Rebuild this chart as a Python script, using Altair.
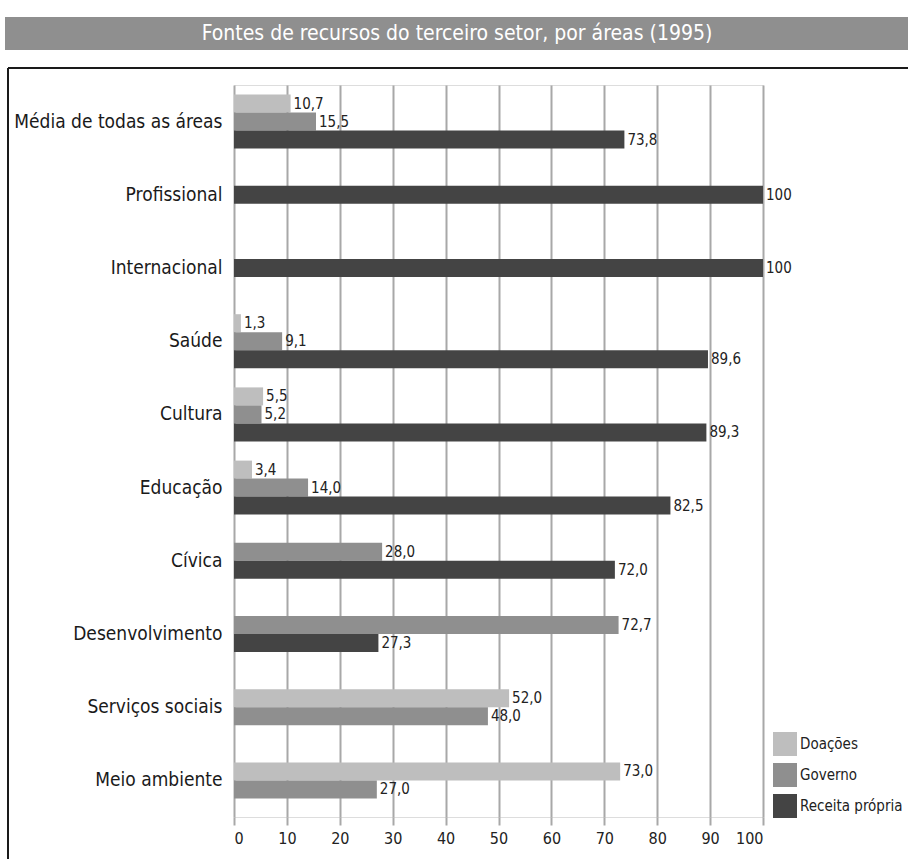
import altair as alt
import pandas as pd

categories = ["Média de todas as áreas", "Profissional", "Internacional", "Saúde",
              "Cultura", "Educação", "Cívica", "Desenvolvimento",
              "Serviços sociais", "Meio ambiente"]
series = ["Doações", "Governo", "Receita própria"]
doacoes = [10.7, None, None, 1.3, 5.5, 3.4, None, None, 52.0, 73.0]
governo = [15.5, None, None, 9.1, 5.2, 14.0, 28.0, 72.7, 48.0, 27.0]
receita = [73.8, 100, 100, 89.6, 89.3, 82.5, 72.0, 27.3, None, None]
colors = ["#bebebe", "#8f8f8f", "#444444"]
x_ticks = list(range(0, 101, 10))
title_text = "Fontes de recursos do terceiro setor, por áreas (1995)"

rows = []
for ci, cat in enumerate(categories):
    vals = [doacoes[ci], governo[ci], receita[ci]]
    present = [(s, v) for s, v in zip(series, vals) if v is not None]
    n = len(present)
    for i, (s, v) in enumerate(present):
        lab = "100" if v == 100 else f"{v:.1f}".replace(".", ",")
        rows.append({"area": cat, "fonte": s, "valor": v, "rotulo": lab,
                     "slot": i - (n - 1) / 2})
df = pd.DataFrame(rows)

FONT = "DejaVu Sans Condensed, Roboto, sans-serif"
W, H = 529, 732
half = H / len(categories) / 2

y_enc = alt.Y("area:N", sort=categories,
              scale=alt.Scale(paddingInner=0, paddingOuter=0),
              axis=alt.Axis(title=None, ticks=False, domain=False, labelFontSize=19,
                            labelFont=FONT, labelColor="#1a1a1a", labelPadding=12,
                            labelLimit=300))
yoff = alt.YOffset("slot:Q", scale=alt.Scale(domain=[-1, 1],
                                             range=[half - 18, half + 18]))
x_enc = alt.X("valor:Q", scale=alt.Scale(domain=[0, 100], nice=False),
              axis=alt.Axis(title=None, values=x_ticks, grid=True, gridColor="#a8a8a8",
                            gridWidth=2, domain=False, ticks=True, tickSize=8,
                            tickColor="#a8a8a8", tickWidth=2, labelFontSize=16,
                            labelFont=FONT, labelColor="#222222", labelPadding=5))

bars = alt.Chart(df).mark_bar(height=18).encode(
    x=x_enc, y=y_enc, yOffset=yoff,
    color=alt.Color("fonte:N", scale=alt.Scale(domain=series, range=colors),
                    legend=alt.Legend(title=None, orient="none", legendX=539, legendY=647,
                                      symbolType="square", symbolSize=576,
                                      symbolStrokeWidth=0, labelFontSize=15,
                                      labelFont=FONT, labelColor="#222222",
                                      rowPadding=7, labelOffset=3, padding=0)),
)

texts = alt.Chart(df).mark_text(align="left", baseline="middle", dx=3, fontSize=15,
                                font=FONT, color="#222222").encode(
    x="valor:Q", y=alt.Y("area:N", sort=categories), yOffset=yoff, text="rotulo:N")

one = pd.DataFrame({"k": [0]})
banner = alt.Chart(one).mark_rect(color="#8f8f8f").encode(
    x=alt.value(-229), x2=alt.value(674), y=alt.value(-68), y2=alt.value(-35))
title = alt.Chart(one).mark_text(fontSize=21, font=FONT, color="white",
                                 align="center", baseline="middle").encode(
    x=alt.value(223), y=alt.value(-51), text=alt.value(title_text))
frame_top = alt.Chart(one).mark_rule(color="#1a1a1a", strokeWidth=2).encode(
    x=alt.value(-226), x2=alt.value(674), y=alt.value(-17))
frame_left = alt.Chart(one).mark_rule(color="#1a1a1a", strokeWidth=2).encode(
    x=alt.value(-226), y=alt.value(-17), y2=alt.value(774))

chart = alt.layer(bars, texts, banner, title, frame_top, frame_left).properties(
    width=W, height=H,
    autosize=alt.AutoSizeParams(type="none"),
    padding={"left": 234, "top": 85, "right": 145, "bottom": 42},
).configure_view(fill="#e0e0e0", stroke=None).configure(background="white")

chart.save("out.html", embed_options={"renderer": "svg", "actions": False})
